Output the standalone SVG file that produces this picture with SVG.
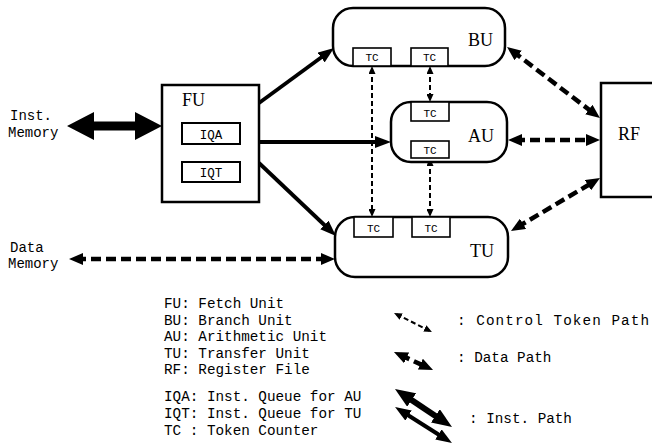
<svg xmlns="http://www.w3.org/2000/svg" width="652" height="447" viewBox="0 0 652 447">
<style>
.box{fill:#fff;stroke:#000;stroke-width:2.5}
.tc{fill:#fff;stroke:#000;stroke-width:1.6}
.lbl{font-family:"Liberation Serif",serif;font-size:18px;fill:#000}
.mono{font-family:"Liberation Mono",monospace;font-size:14px;fill:#000}
.leg{font-family:"Liberation Mono",monospace;font-size:14.3px;fill:#000}
.tct{font-family:"Liberation Mono",monospace;font-size:11px;text-anchor:middle;fill:#000}
.iq{font-family:"Liberation Mono",monospace;font-size:12.5px;text-anchor:middle;fill:#000}
.inst{fill:none;stroke:#000;stroke-width:3.8;marker-end:url(#instM)}
.data{fill:none;stroke:#000;stroke-width:4.5;stroke-dasharray:10 5;marker-start:url(#dataM);marker-end:url(#dataM)}
.ctl{fill:none;stroke:#000;stroke-width:2;stroke-dasharray:5 3;marker-start:url(#ctlM);marker-end:url(#ctlM)}
</style>
<defs>
<marker id="instM" markerUnits="userSpaceOnUse" markerWidth="16" markerHeight="12" refX="8" refY="6" orient="auto-start-reverse"><path d="M0,0 L16,6 L0,12 z" fill="#000"/></marker>
<marker id="instBig" markerUnits="userSpaceOnUse" markerWidth="20" markerHeight="16" refX="10" refY="8" orient="auto-start-reverse"><path d="M0,0 L20,8 L0,16 z" fill="#000"/></marker>
<marker id="dataM" markerUnits="userSpaceOnUse" markerWidth="14" markerHeight="12" refX="7" refY="6" orient="auto-start-reverse"><path d="M0,0 L14,6 L0,12 z" fill="#000"/></marker>
<marker id="ctlM" markerUnits="userSpaceOnUse" markerWidth="8" markerHeight="7" refX="5" refY="3.5" orient="auto-start-reverse"><path d="M0,0 L8,3.5 L0,7 z" fill="#000"/></marker>
</defs>
<rect width="652" height="447" fill="#fff"/>

<g id="connectors">
<polygon points="67,126 94,112 94,121.5 135,121.5 135,112 162,126 135,140 135,130.5 94,130.5 94,140" fill="#000"/>
<path class="inst" d="M259,103 L327.6,52.8"/>
<path class="inst" d="M259,142 L383,142"/>
<path class="inst" d="M259,163 L330.2,230.5"/>
<path class="data" d="M76,259 L328,259"/>
<path class="data" d="M512.6,51.2 L594.4,113.8"/>
<path class="data" d="M515,140 L593,140"/>
<path class="data" d="M517,227.4 L594,181.6"/>
<path class="ctl" d="M372,69 L372,214"/>
<path class="ctl" d="M430,69 L430,99"/>
<path class="ctl" d="M430,161 L430,214"/>
</g>

<g id="inst-memory">
<text class="mono" x="10" y="120">Inst.</text>
<text class="mono" x="8" y="137">Memory</text>
</g>
<g id="data-memory">
<text class="mono" x="10" y="252">Data</text>
<text class="mono" x="8" y="268">Memory</text>
</g>

<g id="FU">
<rect class="box" x="162" y="85" width="97" height="117"/>
<text class="lbl" x="182" y="106">FU</text>
<rect class="box" x="182" y="123" width="58" height="21" style="stroke-width:2"/>
<text class="iq" x="211" y="139">IQA</text>
<rect class="box" x="182" y="162" width="58" height="20" style="stroke-width:2"/>
<text class="iq" x="211" y="177">IQT</text>
</g>

<g id="BU">
<rect class="box" x="333" y="8" width="172" height="58" rx="20"/>
<text class="lbl" x="468" y="46">BU</text>
<rect class="tc" x="353" y="48" width="38" height="18"/>
<text class="tct" x="372" y="61">TC</text>
<rect class="tc" x="411" y="48" width="37" height="18"/>
<text class="tct" x="429.5" y="61">TC</text>
</g>

<g id="AU">
<rect class="box" x="391" y="102" width="116" height="60" rx="20"/>
<text class="lbl" x="468" y="142">AU</text>
<rect class="tc" x="411" y="102" width="38" height="19"/>
<text class="tct" x="430" y="117">TC</text>
<rect class="tc" x="411" y="141" width="38" height="17"/>
<text class="tct" x="430" y="154">TC</text>
</g>

<g id="TU">
<rect class="box" x="335" y="217" width="173" height="60" rx="20"/>
<text class="lbl" x="470" y="257">TU</text>
<rect class="tc" x="354" y="217" width="39" height="20"/>
<text class="tct" x="373.5" y="232">TC</text>
<rect class="tc" x="412" y="217" width="38" height="20"/>
<text class="tct" x="431" y="232">TC</text>
</g>

<g id="RF">
<rect class="box" x="601" y="83" width="60" height="114"/>
<text class="lbl" x="618" y="140">RF</text>
</g>

<g id="legend">
<text class="leg" x="164" y="308">FU: Fetch Unit</text>
<text class="leg" x="164" y="324.5">BU: Branch Unit</text>
<text class="leg" x="164" y="341">AU: Arithmetic Unit</text>
<text class="leg" x="164" y="357.5">TU: Transfer Unit</text>
<text class="leg" x="164" y="374">RF: Register File</text>
<text class="leg" x="164" y="401">IQA: Inst. Queue for AU</text>
<text class="leg" x="164" y="418">IQT: Inst. Queue for TU</text>
<text class="leg" x="164" y="434.5">TC : Token Counter</text>
<path class="ctl" d="M396.7,314.3 L429.3,330.7"/>
<text class="leg" x="457" y="325" textLength="192" lengthAdjust="spacing">: Control Token Path</text>
<path class="data" d="M400.3,354.9 L426.7,367.1"/>
<text class="leg" x="457" y="362">: Data Path</text>
<path d="M403.3,394.5 L443.7,421.4" fill="none" stroke="#000" stroke-width="6" marker-start="url(#instBig)" marker-end="url(#instBig)"/>
<path d="M401.8,411.3 L445.2,438.7" fill="none" stroke="#000" stroke-width="4" marker-start="url(#instM)" marker-end="url(#instM)"/>
<text class="leg" x="469" y="423">: Inst. Path</text>
</g>
</svg>
